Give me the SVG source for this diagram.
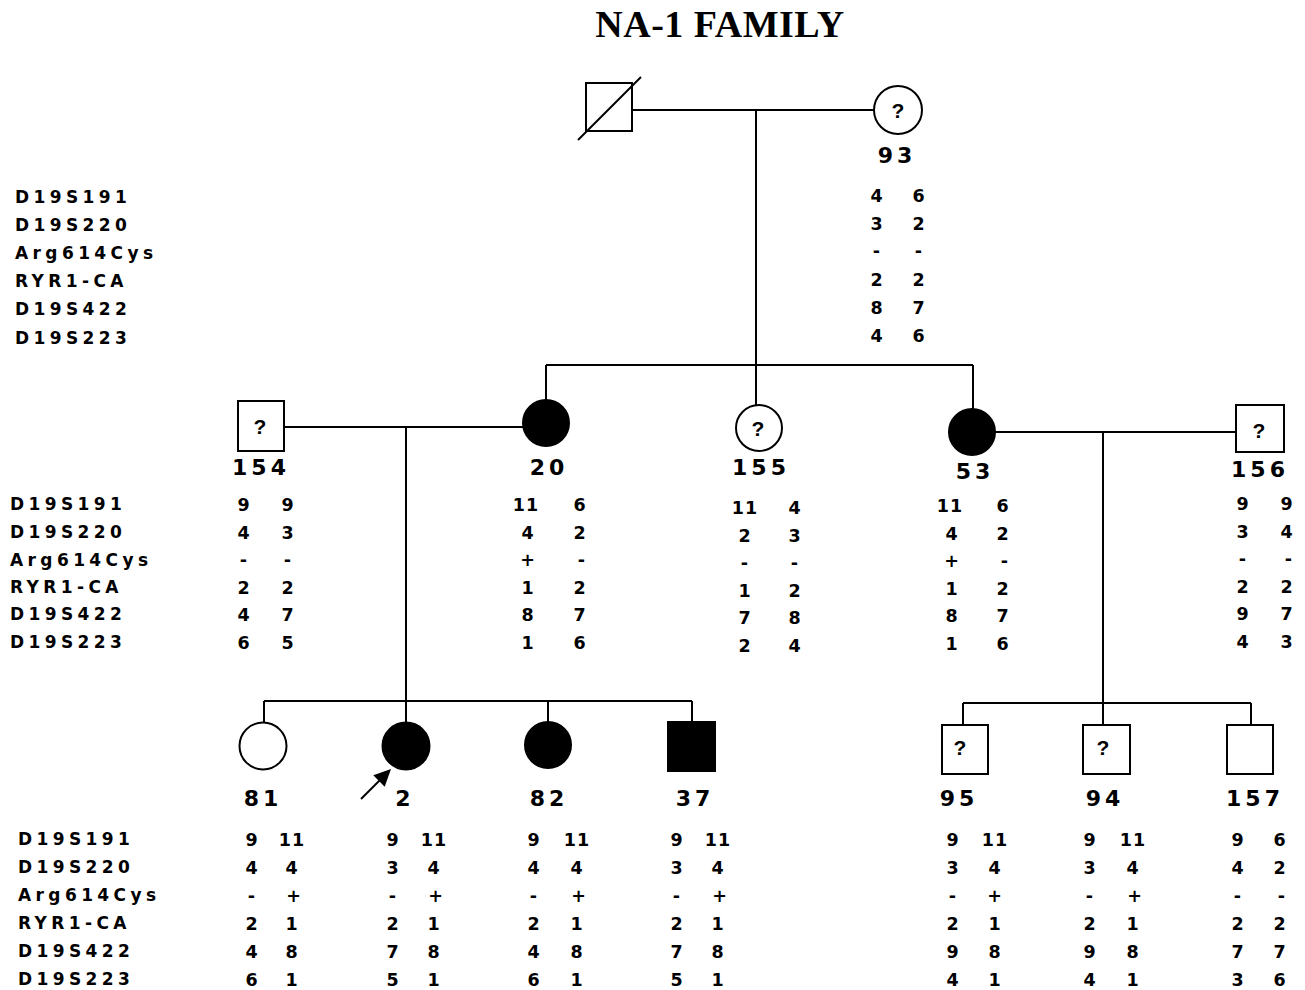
<svg xmlns="http://www.w3.org/2000/svg" width="1305" height="990" viewBox="0 0 1305 990">
  <style>
    .title { font-family: "Liberation Serif", "Times New Roman", serif; font-weight: bold; font-size: 38px; letter-spacing: 0.5px; text-anchor: middle; fill: #000; }
    .lbl { font-family: "DejaVu Sans", "Liberation Sans", sans-serif; font-weight: bold; font-size: 17px; letter-spacing: 4.4px; fill: #000; }
    .gt { font-family: "DejaVu Sans", "Liberation Sans", sans-serif; font-weight: bold; font-size: 17.5px; letter-spacing: 1px; text-anchor: middle; fill: #000; }
    .id { font-family: "DejaVu Sans", "Liberation Sans", sans-serif; font-weight: bold; font-size: 22px; letter-spacing: 4px; text-anchor: middle; fill: #000; }
    .q { font-family: "Liberation Sans", Arial, sans-serif; font-weight: bold; font-size: 21px; text-anchor: middle; fill: #000; }
    .sym { fill: #fff; stroke: #000; stroke-width: 2; }
    .aff { fill: #000; stroke: #000; stroke-width: 2; }
    .ln { stroke: #000; stroke-width: 2; fill: none; }
  </style>
  <rect width="1305" height="990" fill="#fff"/>

  <text class="title" x="720" y="37">NA-1 FAMILY</text>

  <!-- connectors -->
  <g id="connectors" class="ln">
    <line x1="632" y1="110" x2="874" y2="110"/>
    <line x1="756" y1="110" x2="756" y2="405"/>
    <line x1="546" y1="365" x2="973" y2="365"/>
    <line x1="546" y1="365" x2="546" y2="400"/>
    <line x1="973" y1="365" x2="973" y2="409"/>
    <line x1="284" y1="427" x2="523" y2="427"/>
    <line x1="406" y1="427" x2="406" y2="722"/>
    <line x1="264" y1="701" x2="692" y2="701"/>
    <line x1="264" y1="701" x2="264" y2="722"/>
    <line x1="548" y1="701" x2="548" y2="722"/>
    <line x1="692" y1="701" x2="692" y2="722"/>
    <line x1="995" y1="432" x2="1236" y2="432"/>
    <line x1="1103" y1="432" x2="1103" y2="725"/>
    <line x1="963" y1="703" x2="1251" y2="703"/>
    <line x1="963" y1="703" x2="963" y2="725"/>
    <line x1="1251" y1="703" x2="1251" y2="725"/>
  </g>

  <!-- marker names per generation -->
  <g id="markers-gen1" class="lbl">
    <text x="15" y="203">D19S191</text>
    <text x="15" y="231">D19S220</text>
    <text x="15" y="259">Arg614Cys</text>
    <text x="15" y="287">RYR1-CA</text>
    <text x="15" y="315">D19S422</text>
    <text x="15" y="344">D19S223</text>
  </g>
  <g id="markers-gen2" class="lbl">
    <text x="10" y="510">D19S191</text>
    <text x="10" y="538">D19S220</text>
    <text x="10" y="566">Arg614Cys</text>
    <text x="10" y="593">RYR1-CA</text>
    <text x="10" y="620">D19S422</text>
    <text x="10" y="648">D19S223</text>
  </g>
  <g id="markers-gen3" class="lbl">
    <text x="18" y="845">D19S191</text>
    <text x="18" y="873">D19S220</text>
    <text x="18" y="901">Arg614Cys</text>
    <text x="18" y="929">RYR1-CA</text>
    <text x="18" y="957">D19S422</text>
    <text x="18" y="985">D19S223</text>
  </g>

  <!-- generation I -->
  <g id="founder-male">
    <rect class="sym" x="586" y="83" width="46" height="48"/>
    <line class="ln" x1="578" y1="140" x2="641" y2="77"/>
  </g>
  <g id="p93">
    <circle class="sym" cx="898" cy="110" r="24"/>
    <text class="q" x="898" y="118">?</text>
    <text class="id" x="897" y="163">93</text>
    <g class="gt">
      <text x="877" y="202">4</text><text x="919" y="202">6</text>
      <text x="877" y="230">3</text><text x="919" y="230">2</text>
      <text x="877" y="257">-</text><text x="919" y="257">-</text>
      <text x="877" y="286">2</text><text x="919" y="286">2</text>
      <text x="877" y="314">8</text><text x="919" y="314">7</text>
      <text x="877" y="342">4</text><text x="919" y="342">6</text>
    </g>
  </g>

  <!-- generation II -->
  <g id="p154">
    <rect class="sym" x="238" y="401" width="46" height="50"/>
    <text class="q" x="260" y="434">?</text>
    <text class="id" x="261" y="475">154</text>
    <g class="gt">
      <text x="244" y="511">9</text><text x="288" y="511">9</text>
      <text x="244" y="539">4</text><text x="288" y="539">3</text>
      <text x="244" y="566">-</text><text x="288" y="566">-</text>
      <text x="244" y="594">2</text><text x="288" y="594">2</text>
      <text x="244" y="621">4</text><text x="288" y="621">7</text>
      <text x="244" y="649">6</text><text x="288" y="649">5</text>
    </g>
  </g>
  <g id="p20">
    <circle class="aff" cx="546" cy="423" r="23"/>
    <text class="id" x="549" y="475">20</text>
    <g class="gt">
      <text x="526" y="511">11</text><text x="580" y="511">6</text>
      <text x="528" y="539">4</text><text x="580" y="539">2</text>
      <text x="528" y="566">+</text><text x="582" y="566">-</text>
      <text x="528" y="594">1</text><text x="580" y="594">2</text>
      <text x="528" y="621">8</text><text x="580" y="621">7</text>
      <text x="528" y="649">1</text><text x="580" y="649">6</text>
    </g>
  </g>
  <g id="p155">
    <circle class="sym" cx="759" cy="428" r="23"/>
    <text class="q" x="758" y="436">?</text>
    <text class="id" x="761" y="475">155</text>
    <g class="gt">
      <text x="745" y="514">11</text><text x="795" y="514">4</text>
      <text x="745" y="542">2</text><text x="795" y="542">3</text>
      <text x="745" y="569">-</text><text x="795" y="569">-</text>
      <text x="745" y="597">1</text><text x="795" y="597">2</text>
      <text x="745" y="624">7</text><text x="795" y="624">8</text>
      <text x="745" y="652">2</text><text x="795" y="652">4</text>
    </g>
  </g>
  <g id="p53">
    <circle class="aff" cx="972" cy="432" r="23"/>
    <text class="id" x="975" y="479">53</text>
    <g class="gt">
      <text x="950" y="512">11</text><text x="1003" y="512">6</text>
      <text x="952" y="540">4</text><text x="1003" y="540">2</text>
      <text x="952" y="567">+</text><text x="1005" y="567">-</text>
      <text x="952" y="595">1</text><text x="1003" y="595">2</text>
      <text x="952" y="622">8</text><text x="1003" y="622">7</text>
      <text x="952" y="650">1</text><text x="1003" y="650">6</text>
    </g>
  </g>
  <g id="p156">
    <rect class="sym" x="1236" y="405" width="48" height="47"/>
    <text class="q" x="1259" y="438">?</text>
    <text class="id" x="1260" y="477">156</text>
    <g class="gt">
      <text x="1243" y="510">9</text><text x="1287" y="510">9</text>
      <text x="1243" y="538">3</text><text x="1287" y="538">4</text>
      <text x="1243" y="565">-</text><text x="1289" y="565">-</text>
      <text x="1243" y="593">2</text><text x="1287" y="593">2</text>
      <text x="1243" y="620">9</text><text x="1287" y="620">7</text>
      <text x="1243" y="648">4</text><text x="1287" y="648">3</text>
    </g>
  </g>

  <!-- generation III -->
  <g id="p81">
    <circle class="sym" cx="263" cy="746" r="23.5"/>
    <text class="id" x="263" y="806">81</text>
    <g class="gt">
      <text x="252" y="846">9</text><text x="292" y="846">11</text>
      <text x="252" y="874">4</text><text x="292" y="874">4</text>
      <text x="252" y="902">-</text><text x="294" y="902">+</text>
      <text x="252" y="930">2</text><text x="292" y="930">1</text>
      <text x="252" y="958">4</text><text x="292" y="958">8</text>
      <text x="252" y="986">6</text><text x="292" y="986">1</text>
    </g>
  </g>
  <g id="p2">
    <circle class="aff" cx="406" cy="746" r="23.5"/>
    <text class="id" x="405" y="806">2</text>
    <!-- proband arrow -->
    <line class="ln" x1="361" y1="799" x2="380" y2="780" stroke-width="5"/>
    <polygon points="391,769 384.7,786.7 373.3,775.3" fill="#000"/>
    <g class="gt">
      <text x="393" y="846">9</text><text x="434" y="846">11</text>
      <text x="393" y="874">3</text><text x="434" y="874">4</text>
      <text x="393" y="902">-</text><text x="436" y="902">+</text>
      <text x="393" y="930">2</text><text x="434" y="930">1</text>
      <text x="393" y="958">7</text><text x="434" y="958">8</text>
      <text x="393" y="986">5</text><text x="434" y="986">1</text>
    </g>
  </g>
  <g id="p82">
    <circle class="aff" cx="548" cy="745" r="23"/>
    <text class="id" x="549" y="806">82</text>
    <g class="gt">
      <text x="534" y="846">9</text><text x="577" y="846">11</text>
      <text x="534" y="874">4</text><text x="577" y="874">4</text>
      <text x="534" y="902">-</text><text x="579" y="902">+</text>
      <text x="534" y="930">2</text><text x="577" y="930">1</text>
      <text x="534" y="958">4</text><text x="577" y="958">8</text>
      <text x="534" y="986">6</text><text x="577" y="986">1</text>
    </g>
  </g>
  <g id="p37">
    <rect class="aff" x="668" y="722" width="47" height="49"/>
    <text class="id" x="695" y="806">37</text>
    <g class="gt">
      <text x="677" y="846">9</text><text x="718" y="846">11</text>
      <text x="677" y="874">3</text><text x="718" y="874">4</text>
      <text x="677" y="902">-</text><text x="720" y="902">+</text>
      <text x="677" y="930">2</text><text x="718" y="930">1</text>
      <text x="677" y="958">7</text><text x="718" y="958">8</text>
      <text x="677" y="986">5</text><text x="718" y="986">1</text>
    </g>
  </g>
  <g id="p95">
    <rect class="sym" x="942" y="725" width="46" height="49"/>
    <text class="q" x="960" y="755">?</text>
    <text class="id" x="959" y="806">95</text>
    <g class="gt">
      <text x="953" y="846">9</text><text x="995" y="846">11</text>
      <text x="953" y="874">3</text><text x="995" y="874">4</text>
      <text x="953" y="902">-</text><text x="995" y="902">+</text>
      <text x="953" y="930">2</text><text x="995" y="930">1</text>
      <text x="953" y="958">9</text><text x="995" y="958">8</text>
      <text x="953" y="986">4</text><text x="995" y="986">1</text>
    </g>
  </g>
  <g id="p94">
    <rect class="sym" x="1083" y="725" width="47" height="49"/>
    <text class="q" x="1103" y="755">?</text>
    <text class="id" x="1105" y="806">94</text>
    <g class="gt">
      <text x="1090" y="846">9</text><text x="1133" y="846">11</text>
      <text x="1090" y="874">3</text><text x="1133" y="874">4</text>
      <text x="1090" y="902">-</text><text x="1135" y="902">+</text>
      <text x="1090" y="930">2</text><text x="1133" y="930">1</text>
      <text x="1090" y="958">9</text><text x="1133" y="958">8</text>
      <text x="1090" y="986">4</text><text x="1133" y="986">1</text>
    </g>
  </g>
  <g id="p157">
    <rect class="sym" x="1227" y="725" width="46" height="49"/>
    <text class="id" x="1255" y="806">157</text>
    <g class="gt">
      <text x="1238" y="846">9</text><text x="1280" y="846">6</text>
      <text x="1238" y="874">4</text><text x="1280" y="874">2</text>
      <text x="1238" y="902">-</text><text x="1282" y="902">-</text>
      <text x="1238" y="930">2</text><text x="1280" y="930">2</text>
      <text x="1238" y="958">7</text><text x="1280" y="958">7</text>
      <text x="1238" y="986">3</text><text x="1280" y="986">6</text>
    </g>
  </g>
</svg>
